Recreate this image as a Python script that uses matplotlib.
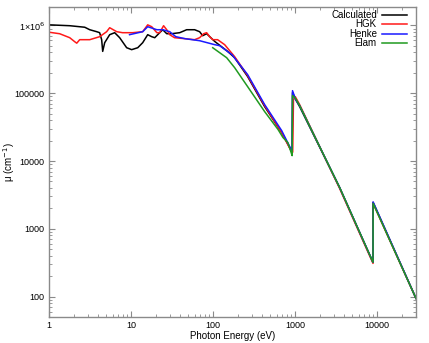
import numpy as np
import matplotlib
matplotlib.use('Agg')
import matplotlib.pyplot as plt
from matplotlib.ticker import FixedLocator, FuncFormatter, LogLocator, NullFormatter

plt.rcParams['font.family'] = ['Liberation Sans', 'DejaVu Sans']

# Calculated
calc_e = [1, 1.79, 2.73, 3.14, 3.82, 4.15, 4.39, 4.52, 4.78, 5.5, 6.33, 7.28, 8.86, 10.2, 12.1, 13.9,
          16.0, 17.9, 19.5, 22.4, 24.4, 27.3, 31.4, 39.3, 47.8, 59.8, 68.8, 74.9, 83.8, 105, 151, 184,
          265, 427, 689, 862, 925, 935, 1021, 1141, 3509, 8970, 8990, 30000]
calc_mu = [1.02e6, 9.9e5, 9.4e5, 8.64e5, 8.08e5, 7.81e5, 6.16e5, 4.14e5, 5.56e5, 7.30e5, 7.81e5, 6.59e5,
           4.69e5, 4.39e5, 4.69e5, 5.56e5, 7.30e5, 6.82e5, 6.59e5, 7.81e5, 8.64e5, 7.55e5, 7.55e5, 7.81e5,
           8.64e5, 8.64e5, 8.08e5, 7.05e5, 7.55e5, 5.81e5, 4.14e5, 3.34e5, 1.76e5, 6.35e4, 2.63e4, 1.58e4,
           1.33e4, 1.02e5, 8.05e4, 6.35e4, 4.07e3, 320, 2450, 94]

# HGK
hgk_e = [1, 1.35, 1.79, 2.06, 2.18, 2.37, 3.14, 4.15, 5.05, 5.5, 6.7, 7.9, 10.5, 13.9, 16.0, 17.9, 20.7,
         22.4, 25.0, 27.3, 29.7, 34.0, 45.7, 59.8, 68.8, 77.1, 83.8, 91.3, 99.4, 114, 139, 184, 265, 427,
         689, 862, 940, 960, 1010, 1141, 3509, 8970, 8990, 30000]
hgk_mu = [7.94e5, 7.54e5, 6.59e5, 5.75e5, 5.47e5, 6.16e5, 6.16e5, 6.82e5, 8.08e5, 9.25e5, 8.08e5, 7.81e5,
          7.81e5, 8.08e5, 1.02e6, 9.57e5, 7.81e5, 7.81e5, 9.9e5, 8.64e5, 7.30e5, 6.59e5, 6.37e5, 6.16e5,
          6.59e5, 7.55e5, 7.81e5, 6.82e5, 6.16e5, 6.16e5, 5.20e5, 3.46e5, 1.82e5, 6.57e4, 2.63e4, 1.55e4,
          1.35e4, 8.0e4, 8.9e4, 6.8e4, 3.94e3, 309, 2370, 94]

# Henke
henke_e = [9.61, 13.9, 16.0, 20.7, 24.4, 29.7, 35.2, 45.7, 68.8, 105, 121, 171, 265, 427, 689, 862, 925,
           935, 1021, 1141, 3509, 8970, 8990, 30000]
henke_mu = [7.30e5, 8.08e5, 9.57e5, 8.64e5, 8.64e5, 8.08e5, 6.82e5, 6.37e5, 5.95e5, 5.20e5, 5.02e5, 3.70e5,
            1.88e5, 6.8e4, 2.81e4, 1.64e4, 1.43e4, 1.09e5, 8.05e4, 6.57e4, 4.07e3, 320, 2490, 94]

# Elam
elam_e = [99.4, 147, 184, 265, 427, 622, 715, 820, 900, 925, 935, 1021, 1141, 3509, 8970, 8990, 30000]
elam_mu = [4.69e5, 3.34e5, 2.38e5, 1.25e5, 5.36e4, 2.92e4, 2.22e4, 1.87e4, 1.33e4, 1.2e4, 9.22e4, 8.33e4,
           6.57e4, 4.07e3, 320, 2370, 94]

fig = plt.figure(figsize=(4.29, 3.43), dpi=100)
ax = fig.add_axes([0.1142, 0.0758, 0.8555, 0.9029])

ax.plot(calc_e, calc_mu, color='black', lw=1.1, label='Calculated')
ax.plot(hgk_e, hgk_mu, color='#ff1a1a', lw=1.1, label='HGK')
ax.plot(henke_e, henke_mu, color='#1a1aff', lw=1.1, label='Henke')
ax.plot(elam_e, elam_mu, color='#1f9a1f', lw=1.1, label='Elam')

ax.set_xscale('log')
ax.set_yscale('log')
ax.set_xlim(1, 30000)
ax.set_ylim(50, 1.85e6)

ax.xaxis.set_major_locator(FixedLocator([1, 10, 100, 1000, 10000]))
ax.yaxis.set_major_locator(FixedLocator([100, 1000, 10000, 100000, 1000000]))
ax.xaxis.set_minor_locator(LogLocator(base=10, subs=np.arange(2, 10)))
ax.yaxis.set_minor_locator(LogLocator(base=10, subs=np.arange(2, 10)))
ax.xaxis.set_minor_formatter(NullFormatter())
ax.yaxis.set_minor_formatter(NullFormatter())


def yfmt(v, pos):
    if v >= 1e6:
        return '1\u00d710$^{6}$'
    return '%d' % v


ax.xaxis.set_major_formatter(FuncFormatter(lambda v, p: '%d' % v))
ax.yaxis.set_major_formatter(FuncFormatter(yfmt))

for s in ax.spines.values():
    s.set_color('#8a8a8a')
    s.set_linewidth(1.0)
ax.tick_params(which='both', direction='in', top=True, right=True, color='#8a8a8a',
               labelsize=6.5, pad=3)
ax.tick_params(which='major', length=4, width=0.8)
ax.tick_params(which='minor', length=2, width=0.6)

ax.set_xlabel('Photon Energy (eV)', fontsize=7)
ax.set_ylabel('\u03bc (cm$^{-1}$)', fontsize=7)
ax.xaxis.set_label_coords(0.5, -0.046)
ax.yaxis.set_label_coords(-0.088, 0.5)

ax.legend(loc='upper right', frameon=False, markerfirst=False, fontsize=7,
          handlelength=2.6, handletextpad=0.5, labelspacing=-0.05,
          borderaxespad=0.0, bbox_to_anchor=(0.986, 1.004))

fig.savefig('out.png', dpi=100)
